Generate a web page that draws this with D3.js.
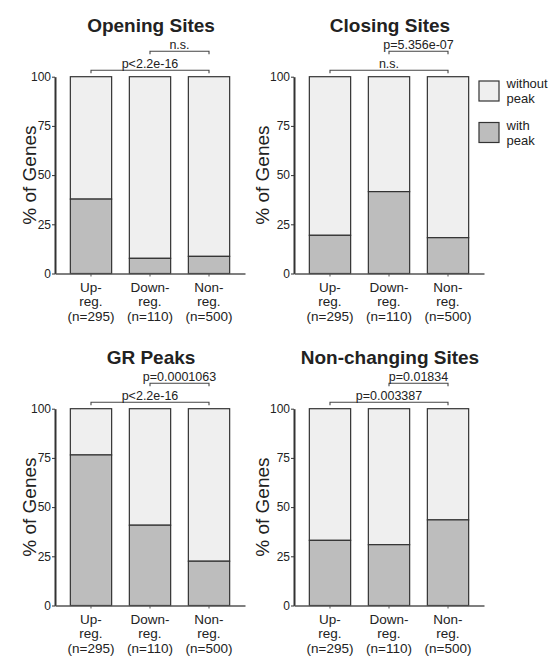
<!DOCTYPE html>
<html>
<head>
<meta charset="utf-8">
<script src="https://cdn.jsdelivr.net/npm/d3@7"></script>
<style>
  body { margin: 0; background: #fff; }
  svg text { font-family: "Liberation Sans", Arial, sans-serif; fill: #222; }
</style>
</head>
<body>
<div id="chart"></div>
<script>
// categories and tick labels
var groups = ["up", "down", "non"];
var groupLabels = [["Up-", "reg.", "(n=295)"], ["Down-", "reg.", "(n=110)"], ["Non-", "reg.", "(n=500)"]];
var yTicks = [0, 25, 50, 75, 100];
var titles = ["Opening Sites", "Closing Sites", "GR Peaks", "Non-changing Sites"];

// % of genes with peak (rest is "without peak")
var openingWithPeak = [37.8, 7.7, 8.7];
var closingWithPeak = [19.4, 41.6, 18.2];
var grWithPeak = [76.5, 40.8, 22.5];
var nonChangingWithPeak = [33.1, 30.9, 43.5];

// p-values: [Up vs Non, Down vs Non]
var openingP = ["p<2.2e-16", "n.s."];
var closingP = ["n.s.", "p=5.356e-07"];
var grP = ["p<2.2e-16", "p=0.0001063"];
var nonChangingP = ["p=0.003387", "p=0.01834"];

var legendLabels = [["without", "peak"], ["with", "peak"]];

var panels = [
  {title: titles[0], vals: openingWithPeak, p: openingP, col: 0, row: 0},
  {title: titles[1], vals: closingWithPeak, p: closingP, col: 1, row: 0},
  {title: titles[2], vals: grWithPeak, p: grP, col: 0, row: 1},
  {title: titles[3], vals: nonChangingWithPeak, p: nonChangingP, col: 1, row: 1}
];

var width = 560, height = 657;
var colFill = {without: "#efefef", with: "#bdbdbd"};

var svg = d3.select("#chart").append("svg")
    .attr("width", width)
    .attr("height", height);

var x = d3.scaleBand()
    .domain(groups)
    .range([55, 245])
    .paddingInner(0.3)
    .paddingOuter(0.26);

var y = d3.scaleLinear()
    .domain([0, 100])
    .range([273.5, 76.7]);

panels.forEach(function(pn) {
  var g = svg.append("g")
      .attr("transform", "translate(" + (pn.col * 239) + "," + (pn.row * 332) + ")");

  // title
  g.append("text")
      .attr("x", 151)
      .attr("y", 31.5)
      .attr("text-anchor", "middle")
      .style("font-size", "19px")
      .style("font-weight", "bold")
      .text(pn.title);

  // bars
  var bar = g.selectAll(".bar")
      .data(pn.vals)
      .enter().append("g")
      .attr("class", "bar");

  bar.append("rect")
      .attr("x", function(d, i) { return x(groups[i]); })
      .attr("y", y(100))
      .attr("width", x.bandwidth())
      .attr("height", function(d) { return y(d) - y(100); })
      .attr("fill", colFill.without)
      .attr("stroke", "#333")
      .attr("stroke-width", 1.2);

  bar.append("rect")
      .attr("x", function(d, i) { return x(groups[i]); })
      .attr("y", function(d) { return y(d); })
      .attr("width", x.bandwidth())
      .attr("height", function(d) { return y(0) - y(d); })
      .attr("fill", colFill.with)
      .attr("stroke", "#333")
      .attr("stroke-width", 1.2);

  // y axis
  var ya = g.append("g")
      .attr("transform", "translate(55,0)")
      .call(d3.axisLeft(y).tickValues(yTicks).tickSize(3).tickSizeOuter(0).tickPadding(1));
  ya.select(".domain").attr("stroke", "#333").attr("stroke-width", 2);
  ya.selectAll(".tick line").attr("stroke", "#333");
  ya.selectAll(".tick text")
      .style("font-size", "12px")
      .style("font-family", "Liberation Sans, Arial, sans-serif")
      .attr("fill", "#222");

  // y label
  g.append("text")
      .attr("transform", "translate(" + (pn.col === 0 ? 36 : 30) + "," + y(50) + ") rotate(-90)")
      .attr("text-anchor", "middle")
      .style("font-size", "19px")
      .text("% of Genes");

  // x axis
  var xa = g.append("g")
      .attr("transform", "translate(0," + y(0) + ")")
      .call(d3.axisBottom(x).tickSize(3).tickSizeOuter(0).tickFormat(""));
  xa.select(".domain").attr("stroke", "#555").attr("stroke-width", 1.5);
  xa.selectAll(".tick line").attr("stroke", "#555");

  var xl = g.selectAll(".xlab")
      .data(groupLabels)
      .enter().append("text")
      .attr("class", "xlab")
      .attr("text-anchor", "middle")
      .style("font-size", "13.5px");
  xl.selectAll("tspan")
      .data(function(d) { return d; })
      .enter().append("tspan")
      .attr("x", function(d, i, nodes) {
        var k = groupLabels.indexOf(d3.select(nodes[i].parentNode).datum());
        return x(groups[k]) + x.bandwidth() / 2;
      })
      .attr("y", function(d, i) { return y(0) + 18 + i * 14.5; })
      .text(function(d) { return d; });

  // significance brackets: [Up vs Non (lower), Down vs Non (upper)]
  var brackets = [
    {from: groups[0], to: groups[2], lev: y(100) - 6.4, label: pn.p[0]},
    {from: groups[1], to: groups[2], lev: y(100) - 25.4, label: pn.p[1]}
  ];
  brackets.forEach(function(b) {
    var x0 = x(b.from) + x.bandwidth() / 2, x1 = x(b.to) + x.bandwidth() / 2;
    g.append("path")
        .attr("d", "M" + x0 + "," + (b.lev + 3) + "V" + b.lev + "H" + x1 + "V" + (b.lev + 3))
        .attr("fill", "none")
        .attr("stroke", "#444")
        .attr("stroke-width", 1.1);
    g.append("text")
        .attr("x", (x0 + x1) / 2)
        .attr("y", b.lev - 2)
        .attr("text-anchor", "middle")
        .style("font-size", "12.5px")
        .text(b.label);
  });
});

// legend
var legend = svg.selectAll(".legend")
    .data([colFill.without, colFill.with])
    .enter().append("g")
    .attr("class", "legend")
    .attr("transform", function(d, i) { return "translate(479," + (81 + i * 41.5) + ")"; });

legend.append("rect")
    .attr("width", 20)
    .attr("height", 20)
    .attr("fill", function(d) { return d; })
    .attr("stroke", "#333")
    .attr("stroke-width", 1.2);

legend.append("text")
    .style("font-size", "13px")
    .selectAll("tspan")
    .data(function(d, i) { return legendLabels[i]; })
    .enter().append("tspan")
    .attr("x", 27.5)
    .attr("y", function(d, i) { return 7 + i * 15; })
    .text(function(d) { return d; });
</script>
</body>
</html>
